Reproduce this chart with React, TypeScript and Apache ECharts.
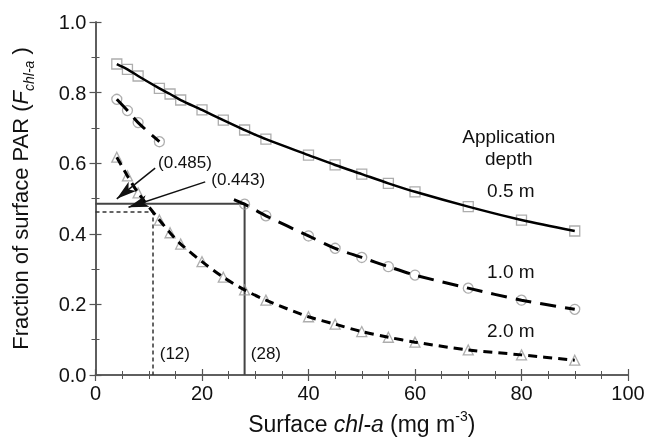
import React, { useEffect, useRef } from "react";
import * as echarts from "echarts";

// 0.5 m (squares, solid line)
const xHalf = [4, 6, 8, 12, 14, 16, 20, 24, 28, 32, 40, 45, 50, 55, 60, 70, 80, 90];
const yHalf = [0.881, 0.866, 0.847, 0.812, 0.796, 0.779, 0.751, 0.722, 0.694, 0.668, 0.623, 0.595, 0.569, 0.543, 0.519, 0.477, 0.439, 0.408];

// 1.0 m (circles, long dashes)
const xOne = [4, 6, 8, 12, 28, 32, 40, 45, 50, 55, 60, 70, 80, 90];
const yOne = [0.781, 0.749, 0.715, 0.661, 0.484, 0.451, 0.394, 0.359, 0.333, 0.307, 0.283, 0.246, 0.212, 0.186];
// visible pieces of the 1.0 m curve
const xOneLineA = [4, 6, 8, 12];
const yOneLineA = [0.781, 0.749, 0.715, 0.661];
const xOneLineB = [26, 28, 32, 40, 45, 50, 55, 60, 70, 80, 90];
const yOneLineB = [0.497, 0.484, 0.451, 0.394, 0.359, 0.333, 0.307, 0.283, 0.246, 0.212, 0.186];

// 2.0 m (triangles, short dashes)
const xTwo = [4, 6, 8, 12, 14, 16, 20, 24, 28, 32, 40, 45, 50, 55, 60, 70, 80, 90];
const yTwo = [0.617, 0.564, 0.516, 0.439, 0.403, 0.371, 0.321, 0.277, 0.241, 0.212, 0.165, 0.144, 0.123, 0.107, 0.093, 0.071, 0.057, 0.042];

// reference guides
const solidGuide = { x: 28, y: 0.485 };
const dashedGuide = { x: 10.8, y: 0.462 };

// annotation arrows: [startX, startY, tipX, tipY]
const arrow485 = [11.2, 0.586, 4.0, 0.499];
const arrow443 = [20.6, 0.547, 6.2, 0.475];

const xTicks = [0, 20, 40, 60, 80, 100];
const yTicks = [0.0, 0.2, 0.4, 0.6, 0.8, 1.0];

const FONT = "Liberation Sans, Arial, Helvetica, sans-serif";
const zip = (xs: number[], ys: number[]) => xs.map((x, i) => [x, ys[i]]);

export default function App() {
  const ref = useRef<HTMLDivElement>(null);
  useEffect(() => {
    if (!ref.current) return;
    document.body.style.margin = "0";
    const chart = echarts.init(ref.current, null, { renderer: "svg" });
    const axisLine = { show: true, lineStyle: { color: "#555", width: 1.5 } };
    const tickBase = { show: true, inside: true, length: 6, lineStyle: { color: "#555", width: 1.2 } };
    const minorBase = { show: true, splitNumber: 4, length: 4, lineStyle: { color: "#555", width: 1 } };
    const markerStyle = { color: "transparent", borderColor: "#999", borderWidth: 1.3 };
    const option: any = {
      animation: false,
      textStyle: { fontFamily: FONT },
      grid: { left: 95.5, right: 22, top: 22, bottom: 71, containLabel: false },
      xAxis: [
        {
          type: "value", min: 0, max: 100, interval: 20,
          axisLine, axisTick: tickBase,
          minorTick: minorBase,
          splitLine: { show: false },
          axisLabel: { fontSize: 20, color: "#111", margin: 8, fontFamily: FONT,
            formatter: (v: number) => (xTicks.includes(v) ? String(v) : "") },
          name: "Surface {i|chl-a} (mg m{sup|-3})",
          nameLocation: "middle", nameGap: 34,
          nameTextStyle: {
            fontSize: 23, color: "#111", fontFamily: FONT,
            rich: {
              i: { fontSize: 23, fontStyle: "italic", color: "#111", fontFamily: FONT },
              sup: { fontSize: 14, color: "#111", fontFamily: FONT, verticalAlign: "top", lineHeight: 30 },
            },
          },
        },
        {
          type: "value", min: 0, max: 100, interval: 20, position: "top",
          axisLine, axisTick: tickBase, minorTick: minorBase,
          splitLine: { show: false }, axisLabel: { show: false },
        },
      ],
      yAxis: [
        {
          type: "value", min: 0, max: 1, interval: 0.2,
          axisLine, axisTick: tickBase,
          minorTick: { ...minorBase, splitNumber: 2 },
          splitLine: { show: false },
          axisLabel: { fontSize: 20, color: "#111", margin: 9, fontFamily: FONT,
            formatter: (v: number) => (yTicks.some((t) => Math.abs(t - v) < 1e-6) ? v.toFixed(1) : "") },
          name: "Fraction of surface PAR ({i|F}{sub|chl-a} )",
          nameLocation: "middle", nameGap: 60, nameRotate: 90,
          nameTextStyle: {
            fontSize: 22, color: "#111", fontFamily: FONT,
            rich: {
              i: { fontSize: 22, fontStyle: "italic", color: "#111", fontFamily: FONT },
              sub: { fontSize: 14, fontStyle: "italic", color: "#111", fontFamily: FONT, verticalAlign: "bottom", lineHeight: 30 },
            },
          },
        },
        {
          type: "value", min: 0, max: 1, interval: 0.2, position: "right",
          axisLine, axisTick: tickBase, minorTick: { ...minorBase, splitNumber: 2 },
          splitLine: { show: false }, axisLabel: { show: false },
        },
      ],
      series: [
        // guides
        {
          type: "line", data: [[0, solidGuide.y], [solidGuide.x, solidGuide.y], [solidGuide.x, 0]],
          symbol: "none", lineStyle: { color: "#444", width: 2 }, z: 1,
        },
        {
          type: "line", data: [[0, dashedGuide.y], [dashedGuide.x, dashedGuide.y], [dashedGuide.x, 0]],
          symbol: "none", lineStyle: { color: "#333", width: 1.5, type: [4, 3] }, z: 1,
          markLine: {
            silent: true, animation: false,
            symbol: ["none", "arrow"], symbolSize: [9, 20],
            lineStyle: { color: "#111", width: 1.5, type: "solid" },
            label: { show: false },
            data: [
              [{ coord: [arrow485[0], arrow485[1]] }, { coord: [arrow485[2], arrow485[3]] }],
              [{ coord: [arrow443[0], arrow443[1]] }, { coord: [arrow443[2], arrow443[3]] }],
            ],
          },
        },
        // markers
        { type: "scatter", data: zip(xHalf, yHalf), symbol: "rect", symbolSize: 10, itemStyle: markerStyle, z: 2 },
        { type: "scatter", data: zip(xOne, yOne), symbol: "circle", symbolSize: 10, itemStyle: markerStyle, z: 2 },
        { type: "scatter", data: zip(xTwo, yTwo), symbol: "triangle", symbolSize: 10, itemStyle: markerStyle, z: 2 },
        // curves
        { type: "line", data: zip(xHalf, yHalf), symbol: "none", smooth: 0.3, lineStyle: { color: "#000", width: 2.5 }, z: 3 },
        { type: "line", data: zip(xOneLineA, yOneLineA), symbol: "none", smooth: 0.3, lineStyle: { color: "#000", width: 3, type: [16, 9] }, z: 3 },
        { type: "line", data: zip(xOneLineB, yOneLineB), symbol: "none", smooth: 0.3, lineStyle: { color: "#000", width: 3, type: [16, 9] }, z: 3 },
        { type: "line", data: zip(xTwo, yTwo), symbol: "none", smooth: 0.3, lineStyle: { color: "#000", width: 3, type: [9, 6] }, z: 3 },
      ],
    };
    chart.setOption(option);

    const px = (x: number, y: number) => chart.convertToPixel({ xAxisIndex: 0, yAxisIndex: 0 }, [x, y]) as number[];
    const txt = (x: number, y: number, text: string, size: number) => {
      const p = px(x, y);
      return {
        type: "text", x: p[0], y: p[1], z: 10,
        style: { text, fontSize: size, fontFamily: FONT, fill: "#111", align: "center", verticalAlign: "middle" },
      };
    };
    chart.setOption({
      graphic: [
        txt(16.8, 0.603, "(0.485)", 17),
        txt(26.8, 0.554, "(0.443)", 17),
        txt(14.9, 0.06, "(12)", 17),
        txt(32.0, 0.06, "(28)", 17),
        txt(77.6, 0.675, "Application", 19),
        txt(77.6, 0.614, "depth", 19),
        txt(78.0, 0.522, "0.5 m", 19),
        txt(78.0, 0.292, "1.0 m", 19),
        txt(78.0, 0.127, "2.0 m", 19),
      ],
    });
    return () => chart.dispose();
  }, []);
  return <div ref={ref} style={{ width: 650, height: 446, position: "fixed", left: 0, top: 0 }} />;
}
